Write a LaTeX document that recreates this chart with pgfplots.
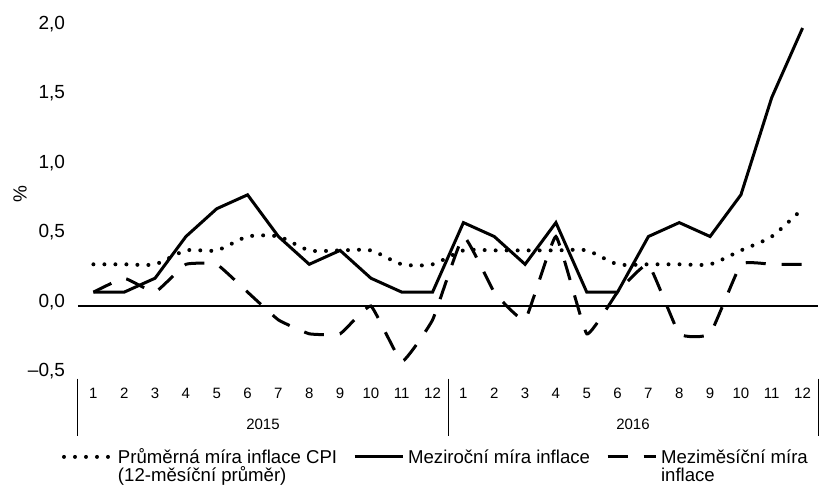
\documentclass[border=0pt]{standalone}
\usepackage{fontspec}
\setmainfont{Liberation Sans}
\usepackage{pgfplots}
\pgfplotsset{compat=1.18}
\begin{document}
\begin{tikzpicture}
\begin{axis}[
 scale only axis, width=370pt, height=173.75pt,
 xmin=0.5, xmax=24.5, ymin=-0.5, ymax=2.0,
 axis lines=left, axis line style={draw=none},
 clip=false,
 xtick={1,...,24},
 xticklabels={1,2,3,4,5,6,7,8,9,10,11,12,1,2,3,4,5,6,7,8,9,10,11,12},
 major tick length=0pt,
 ytick={-0.5,0,0.5,1,1.5,2},
 yticklabels={{–0,5},{0,0},{0,5},{1,0},{1,5},{2,0}},
 yticklabel style={font=\fontsize{9.5}{11}\selectfont, xshift=-3pt, yshift=2pt},
 xticklabel style={font=\fontsize{7.5}{9}\selectfont, anchor=center, yshift=-9pt},
 legend columns=3,
 legend style={at={(0.485,0)}, anchor=north, yshift=-32.5pt, draw=none,
   font=\fontsize{9.3}{9}\selectfont, cells={anchor=base west, align=left},
   /tikz/every odd column/.append style={column sep=0pt},
   /tikz/every even column/.append style={column sep=6pt}},
 legend image code/.code={\draw[#1] (0pt,12.5pt) -- (24pt,12.5pt);},
]
\coordinate (SW) at (rel axis cs:0,0);
\addplot[black, line width=0.6pt, forget plot] coordinates {(0.5,0) (24.5,0)};

\addplot[black, line width=2pt, line cap=round, dash pattern=on 0pt off 5.5pt, smooth, tension=0.4] coordinates {
(1,0.3) (2,0.3) (3,0.3) (4,0.4) (5,0.4) (6,0.5) (7,0.5) (8,0.4) (9,0.4) (10,0.4) (11,0.3) (12,0.3)
(13,0.4) (14,0.4) (15,0.4) (16,0.4) (17,0.4) (18,0.3) (19,0.3) (20,0.3) (21,0.3) (22,0.4) (23,0.5) (24,0.7)};
\addlegendentry{Průměrná míra inflace CPI\\(12-měsíční průměr)}

\addplot[black, line width=1.5pt] coordinates {
(1,0.1) (2,0.1) (3,0.2) (4,0.5) (5,0.7) (6,0.8) (7,0.5) (8,0.3) (9,0.4) (10,0.2) (11,0.1) (12,0.1)
(13,0.6) (14,0.5) (15,0.3) (16,0.6) (17,0.1) (18,0.1) (19,0.5) (20,0.6) (21,0.5) (22,0.8) (23,1.5) (24,2.0)};
\addlegendentry{Meziroční míra inflace\\\mbox{}}

\addplot[black, line width=1.5pt, dash pattern=on 10pt off 8pt, smooth, tension=0.2] coordinates {
(1,0.1) (2,0.2) (3,0.1) (4,0.3) (5,0.3) (6,0.1) (7,-0.1) (8,-0.2) (9,-0.2) (10,0.0) (11,-0.4) (12,-0.1)
(13,0.5) (14,0.1) (15,-0.1) (16,0.5) (17,-0.2) (18,0.1) (19,0.3) (20,-0.2) (21,-0.2) (22,0.3) (23,0.3) (24,0.3)};
\addlegendentry{Meziměsíční míra\\inflace}

\draw[line width=0.5pt] ([yshift=-1.5pt]axis cs:0.5,-0.5) -- ([yshift=-30pt]axis cs:0.5,-0.5);
\draw[line width=0.5pt] ([yshift=-1.5pt]axis cs:12.5,-0.5) -- ([yshift=-30pt]axis cs:12.5,-0.5);
\draw[line width=0.5pt] ([yshift=-1.5pt]axis cs:24.5,-0.5) -- ([yshift=-30pt]axis cs:24.5,-0.5);
\node[font=\fontsize{7.5}{9}\selectfont, yshift=-24.5pt] at (axis cs:6.5,-0.5) {2015};
\node[font=\fontsize{7.5}{9}\selectfont, yshift=-24.5pt] at (axis cs:18.5,-0.5) {2016};
\node[rotate=90, font=\fontsize{9.5}{11}\selectfont] at ([xshift=-29pt]rel axis cs:0,0.523) {\%};
\end{axis}
\pgfresetboundingbox
\path[use as bounding box] (SW) ++(-39pt,-54.25pt) rectangle ++(409.5pt,242pt);
\end{tikzpicture}
\end{document}
